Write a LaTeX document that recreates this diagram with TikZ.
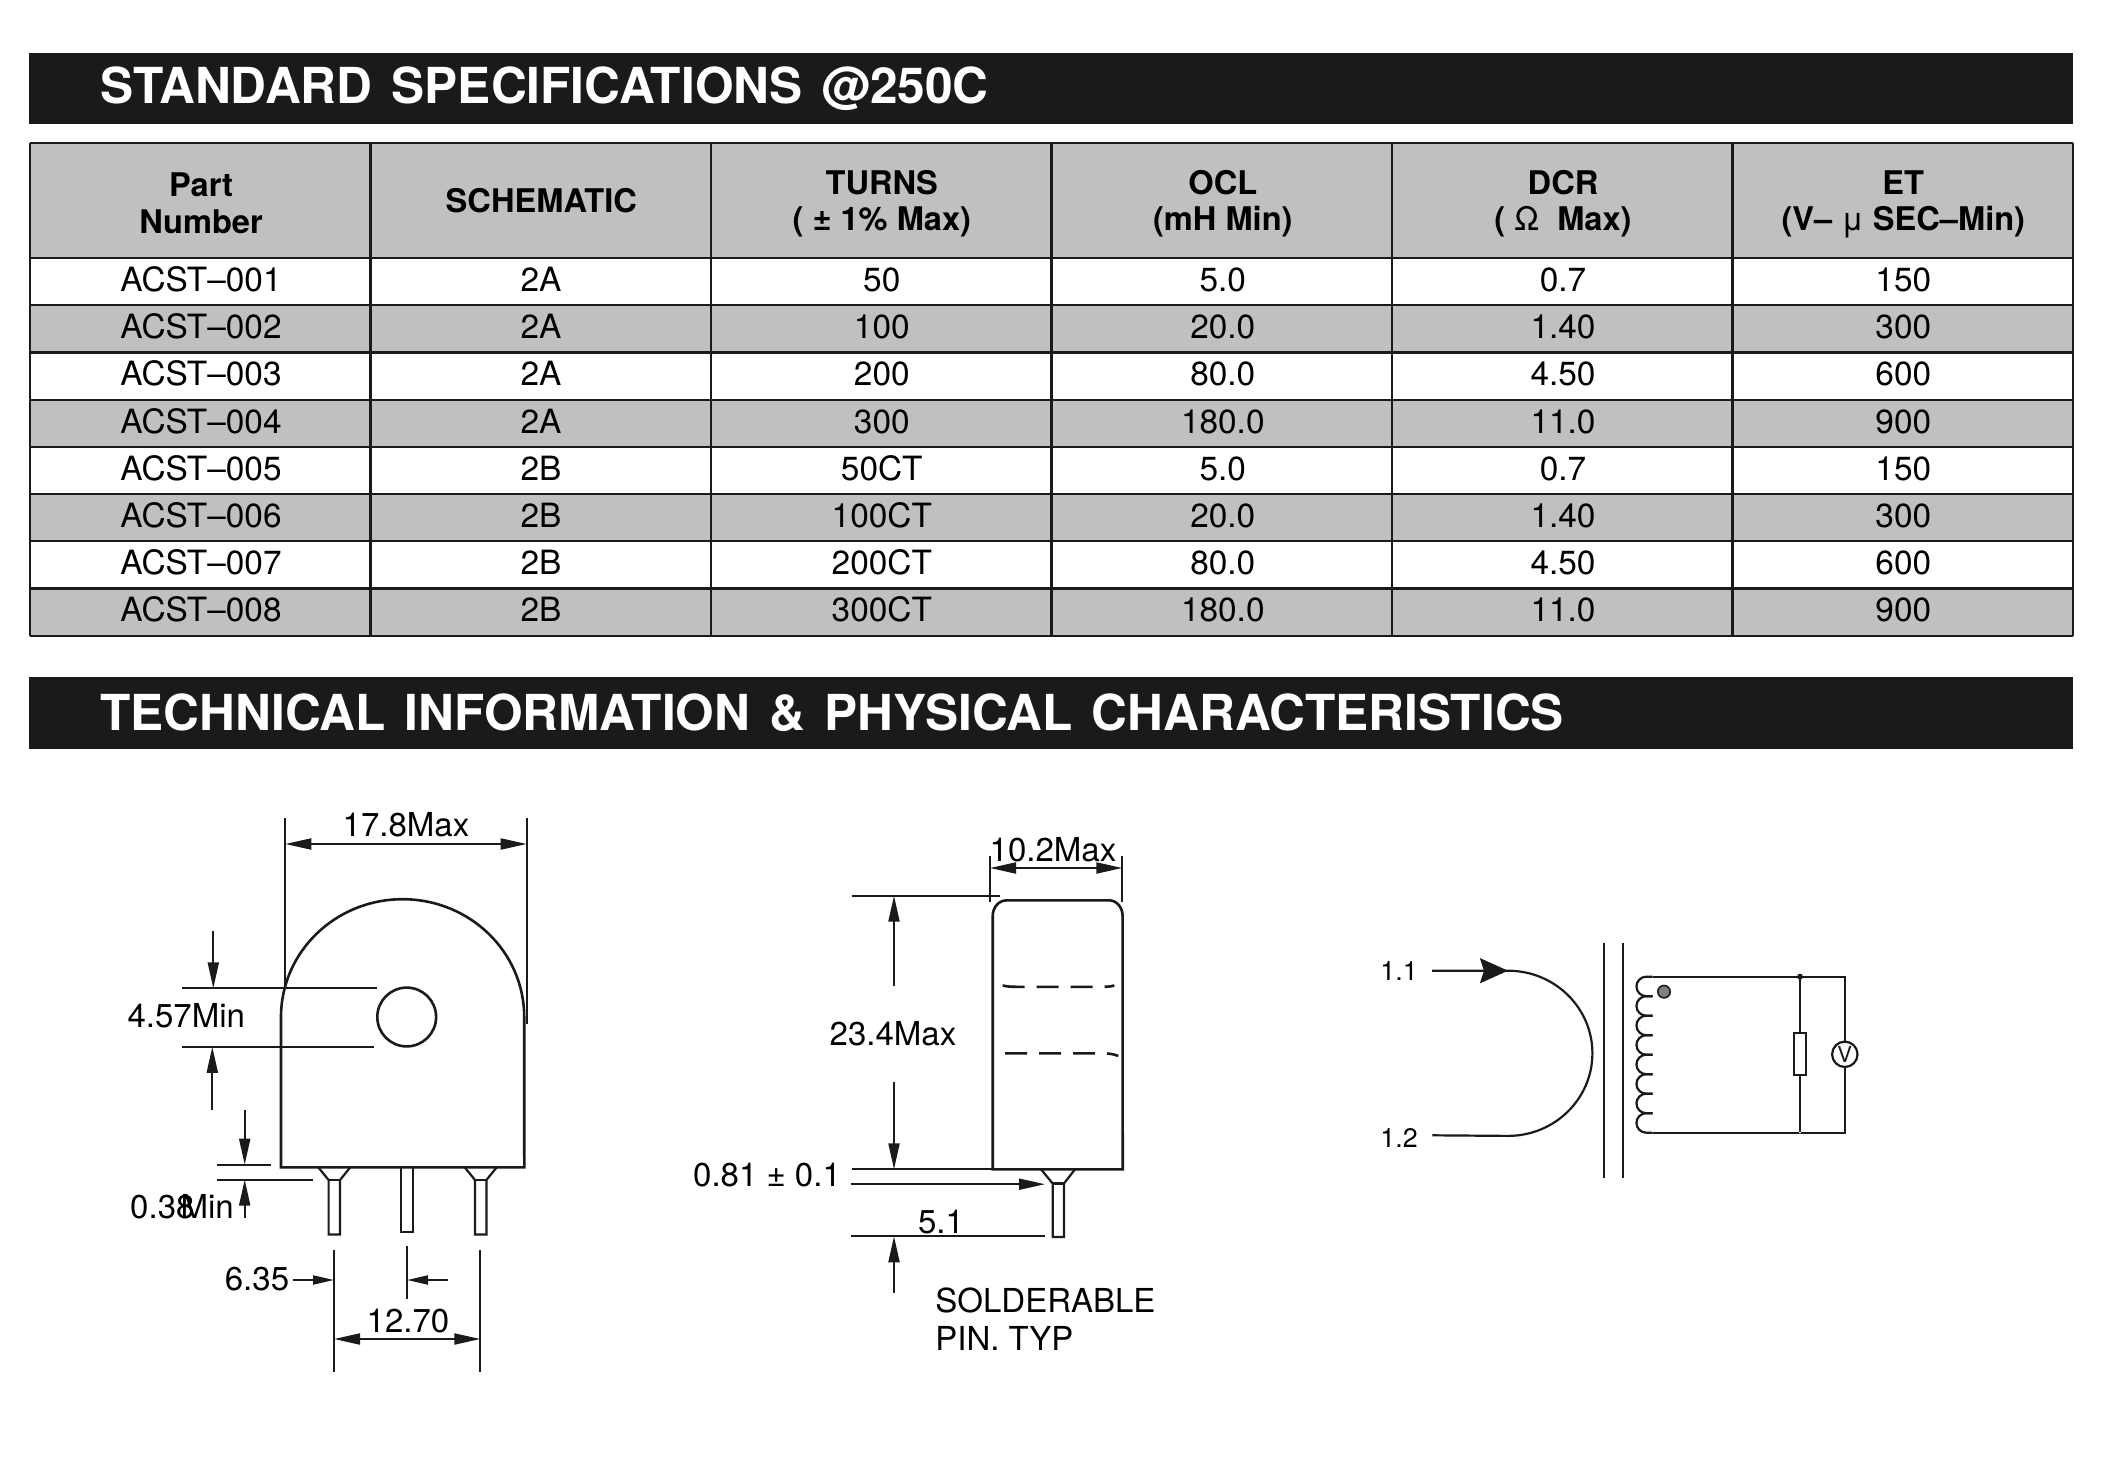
\documentclass[tikz,border=0pt]{standalone}
\usepackage{fontspec}
\setmainfont{TeX Gyre Heros}
\newfontfamily\bannerfont[WordSpace=1.4]{TeX Gyre Heros}
\definecolor{BandBlack}{RGB}{26, 26, 26}
\definecolor{RowGray}{RGB}{192, 192, 192}
\usetikzlibrary{arrows.meta, shapes, calc}

\begin{document}
\begin{tikzpicture}[
        x=0.5pt, y=-0.5pt,
        banner/.style={anchor=base west, inner sep=0pt, text=white, font=\bannerfont\bfseries\fontsize{24.8pt}{28pt}\selectfont},
        head/.style={anchor=base, inner sep=0pt, font=\bfseries\fontsize{16.3pt}{18pt}\selectfont},
        cell/.style={anchor=base, inner sep=0pt, font=\fontsize{16.7pt}{18pt}\selectfont},
        dimtext/.style={anchor=base, inner sep=0pt, font=\fontsize{16.5pt}{18pt}\selectfont},
        pintext/.style={anchor=base west, inner sep=0pt, font=\fontsize{13.4pt}{15pt}\selectfont},
        rule/.style={draw, line width=1.1pt, BandBlack},
        outline/.style={draw, line width=1.3pt, BandBlack, line join=miter},
        thinline/.style={draw, line width=1pt, BandBlack},
        dimline/.style={draw, line width=1pt, BandBlack, -{Triangle[length=13pt, width=5.5pt]}},
        dimboth/.style={draw, line width=1pt, BandBlack, {Triangle[length=13pt, width=5.5pt]}-{Triangle[length=13pt, width=5.5pt]}},
        wire/.style={draw, line width=1.1pt, BandBlack},
        loadbox/.style={rectangle, draw, line width=1.1pt, BandBlack, fill=white, minimum width=6pt, minimum height=20.8pt, inner sep=0pt},
        meter/.style={circle, draw, line width=1.1pt, BandBlack, fill=white, minimum size=12.7pt, inner sep=0pt, font=\fontsize{11pt}{12pt}\selectfont}
    ]
        \useasboundingbox (0,0) rectangle (2120,1466);

        \fill[BandBlack] (29,53) rectangle (2073,124);
        \fill[BandBlack] (29,677) rectangle (2073,749);
        \node [banner] (spectitle) at (100,104) {STANDARD SPECIFICATIONS @250C};
        \node [banner] (techtitle) at (100,730) {TECHNICAL INFORMATION \& PHYSICAL CHARACTERISTICS};

        \fill[RowGray] (30,143) rectangle (2073,258);
        \foreach \rownum in {2,4,6,8}
            \fill[RowGray] (30,{258+47.2*(\rownum-1)}) rectangle (2073,{258+47.2*\rownum});
        \foreach \rowy in {143,258,305.2,352.4,399.6,446.8,494,541.2,588.4,635.6}
            \path [rule] (30,\rowy) -- (2073,\rowy);
        \foreach \colx in {30,370.5,711,1051.5,1392,1732.5,2073}
            \path [rule] (\colx,143) -- (\colx,635.6);

        \node [head] (part) at (201,196.5) {Part};
        \node [head] (number) at (201,233.5) {Number};
        \node [head] (schematic) at (541.3,212.7) {SCHEMATIC};
        \node [head] (turns) at (881.8,195) {TURNS};
        \node [head] (turnsunit) at (881.8,231) {( ± 1\% Max)};
        \node [head] (ocl) at (1222.8,195) {OCL};
        \node [head] (oclunit) at (1222.8,231) {(mH Min)};
        \node [head] (dcr) at (1563,195) {DCR};
        \node [head] (dcrunit) at (1563,231) {( {\mdseries Ω}\ \ Max)};
        \node [head] (et) at (1903.3,195) {ET};
        \node [head] (etunit) at (1903.3,231) {(V– {\mdseries μ} SEC–Min)};

        \foreach \rownum/\partno/\schem/\nturns/\ocl/\dcr/\et in {
            1/ACST–001/2A/50/5.0/0.7/150,
            2/ACST–002/2A/100/20.0/1.40/300,
            3/ACST–003/2A/200/80.0/4.50/600,
            4/ACST–004/2A/300/180.0/11.0/900,
            5/ACST–005/2B/50CT/5.0/0.7/150,
            6/ACST–006/2B/100CT/20.0/1.40/300,
            7/ACST–007/2B/200CT/80.0/4.50/600,
            8/ACST–008/2B/300CT/180.0/11.0/900} {
            \node [cell] (part\rownum) at (201,{258+47.2*(\rownum-1)+33.5}) {\partno};
            \node [cell] (schem\rownum) at (541,{258+47.2*(\rownum-1)+33.5}) {\schem};
            \node [cell] (turns\rownum) at (881.8,{258+47.2*(\rownum-1)+33.5}) {\nturns};
            \node [cell] (ocl\rownum) at (1222.8,{258+47.2*(\rownum-1)+33.5}) {\ocl};
            \node [cell] (dcr\rownum) at (1563,{258+47.2*(\rownum-1)+33.5}) {\dcr};
            \node [cell] (et\rownum) at (1903.3,{258+47.2*(\rownum-1)+33.5}) {\et};
        }

        \path [outline] (281,1167.3) -- (281,1017) arc[start angle=180, end angle=0, x radius=60.8pt, y radius=58.9pt] -- (524.3,1167.3) -- cycle;
        \path [outline] (406.7,1017) circle[radius=14.7pt];
        \path [thinline] (285.3,818) -- (285.3,989);
        \path [thinline] (526.7,818) -- (526.7,1024);
        \path [dimboth] (285.3,844) -- (526.7,844);
        \node [dimtext] (width1) at (406,836) {17.8Max};

        \path [thinline] (181.7,988.3) -- (377.3,988.3);
        \path [thinline] (181.7,1046.8) -- (374.3,1046.8);
        \path [dimline] (213.3,931.4) -- (213.3,988.3);
        \path [dimline] (212.3,1110) -- (212.3,1046.8);
        \node [dimtext] (hole) at (186.3,1027.5) {4.57Min};

        \path [thinline] (217.3,1164.6) -- (270.7,1164.6);
        \path [thinline] (217.3,1179.6) -- (312.7,1179.6);
        \path [dimline] (244.7,1110) -- (244.7,1164.6);
        \path [dimline] (244.7,1218) -- (244.7,1179.6);
        \node [dimtext] (gap) at (182,1218) {0.38\kern-0.42em Min};

        \foreach \pinx in {334.3,480.7} {
            \path [outline, line width=1.1pt] ({\pinx-16},1167.3) -- ({\pinx-5.7},1180) -- ({\pinx-5.7},1234.5) -- ({\pinx+5.7},1234.5) -- ({\pinx+5.7},1180) -- ({\pinx+16},1167.3);
            \path [outline, line width=1.1pt] ({\pinx-5.7},1180) -- ({\pinx+5.7},1180);
        }
        \path [outline, line width=1.1pt] (401,1167.3) rectangle (412.7,1231.8);

        \path [thinline] (334,1250.4) -- (334,1371.7);
        \path [thinline] (407,1246.4) -- (407,1298.6);
        \path [thinline] (480.3,1250.4) -- (480.3,1371.7);
        \node [dimtext] (pitch1) at (257,1290) {6.35};
        \path [dimline, -{Triangle[length=10.5pt, width=4.5pt]}] (292.7,1280) -- (334,1280);
        \path [dimline, -{Triangle[length=10.5pt, width=4.5pt]}] (448.3,1280) -- (407,1280);
        \node [dimtext] (pitch2) at (408,1332) {12.70};
        \path [dimboth] (334,1339) -- (480.3,1339);

        \path [outline] (992.7,1169.3) -- (992.7,916) arc[start angle=180, end angle=90, x radius=6.8pt, y radius=7.8pt] -- (1109,900.3) arc[start angle=90, end angle=0, x radius=6.8pt, y radius=7.8pt] -- (1122.7,1169.3) -- cycle;
        \path [thinline, line width=1.3pt, dash pattern=on 11pt off 6pt] (1002.7,985.5) .. controls (1008,986.8) and (1012,986.8) .. (1018,986.8) -- (1100,986.8) .. controls (1106,986.8) and (1110,986.8) .. (1114.3,985.5);
        \path [thinline, line width=1.3pt, dash pattern=on 11pt off 6pt] (1005,1053.3) -- (1102,1053.3) .. controls (1108,1053.3) and (1114,1054) .. (1118.3,1056);
        \path [thinline] (990,856) -- (990,902);
        \path [thinline] (1122.3,855.5) -- (1122.3,902);
        \path [dimboth] (990,868) -- (1122.3,868);
        \node [dimtext] (width2) at (1053,861) {10.2Max};

        \path [thinline] (851.7,895.7) -- (1000,895.7);
        \path [dimline] (894,986.4) -- (894,895.7);
        \path [dimline] (894,1082) -- (894,1169.3);
        \node [dimtext] (height) at (893,1045) {23.4Max};

        \path [thinline] (851.7,1169.3) -- (992.7,1169.3);
        \path [dimline] (850.7,1184.2) -- (1045,1184.2);
        \node [dimtext] (offset) at (767,1186.5) {0.81 ± 0.1};
        \path [outline, line width=1.1pt] (1041,1169.3) -- (1052.7,1183.5) -- (1052.7,1237) -- (1064,1237) -- (1064,1183.5) -- (1075,1169.3);
        \path [outline, line width=1.1pt] (1052.7,1183.5) -- (1064,1183.5);
        \node [dimtext] (pinlen) at (941,1233) {5.1};
        \path [thinline] (850.7,1236.3) -- (1045,1236.3);
        \path [dimline] (894,1292.5) -- (894,1236.3);
        \node [dimtext, anchor=base west] (solder) at (935,1312.5) {SOLDERABLE};
        \node [dimtext, anchor=base west] (pintyp) at (935,1350.5) {PIN. TYP};

        \node [pintext] (pin1) at (1380,980.7) {1.1};
        \node [pintext] (pin2) at (1380,1147.3) {1.2};
        \coordinate (in1) at (1432.3,970.7);
        \coordinate (in2) at (1432.3,1135.3);
        \coordinate (loopa) at (1508,970.7);
        \coordinate (loopb) at (1508,1135.3);
        \path [wire] (in1) -- (loopa) arc[start angle=90, end angle=-90, x radius=42.2pt, y radius=41.3pt] -- (in2);
        \path [wire, -{Stealth[length=14pt, width=12.5pt, inset=2pt]}] (in1) -- (loopa);
        \path [wire] (1603.8,942.7) -- (1603.8,1177.7);
        \path [wire] (1622.7,942.7) -- (1622.7,1177.7);

        \foreach \turn in {0,...,7}
            \path [wire] (1652.7,{976.7+19.5*\turn}) -- (1646.2,{976.7+19.5*\turn}) arc[start angle=90, end angle=270, radius=4.875pt] -- (1652.7,{976.7+19.5*(\turn+1)});
        \node [circle, draw, line width=0.8pt, BandBlack, fill=gray, minimum size=6.2pt, inner sep=0pt] (dot) at (1664,991.7) {};

        \coordinate (coiltop) at (1652.7,976.7);
        \coordinate (coilbot) at (1652.7,1132.7);
        \coordinate (jtop) at (1800,976.7);
        \coordinate (jbot) at (1800,1132.7);
        \coordinate (rtop) at (1844.8,976.7);
        \coordinate (rbot) at (1844.8,1132.7);
        \node [loadbox] (load) at (1800,1054) {};
        \node [meter] (volt) at (1844.8,1054.3) {V};
        \path [wire] (coiltop) -- (rtop) -- (volt);
        \path [wire] (volt) -- (rbot) -- (coilbot);
        \path [wire] (jtop) -- (load);
        \path [wire] (load) -- (jbot);
        \fill[BandBlack] (jtop) circle[radius=1.5pt];
        \fill[white] (jbot) circle[radius=0.5pt];
    \end{tikzpicture}
\end{document}
